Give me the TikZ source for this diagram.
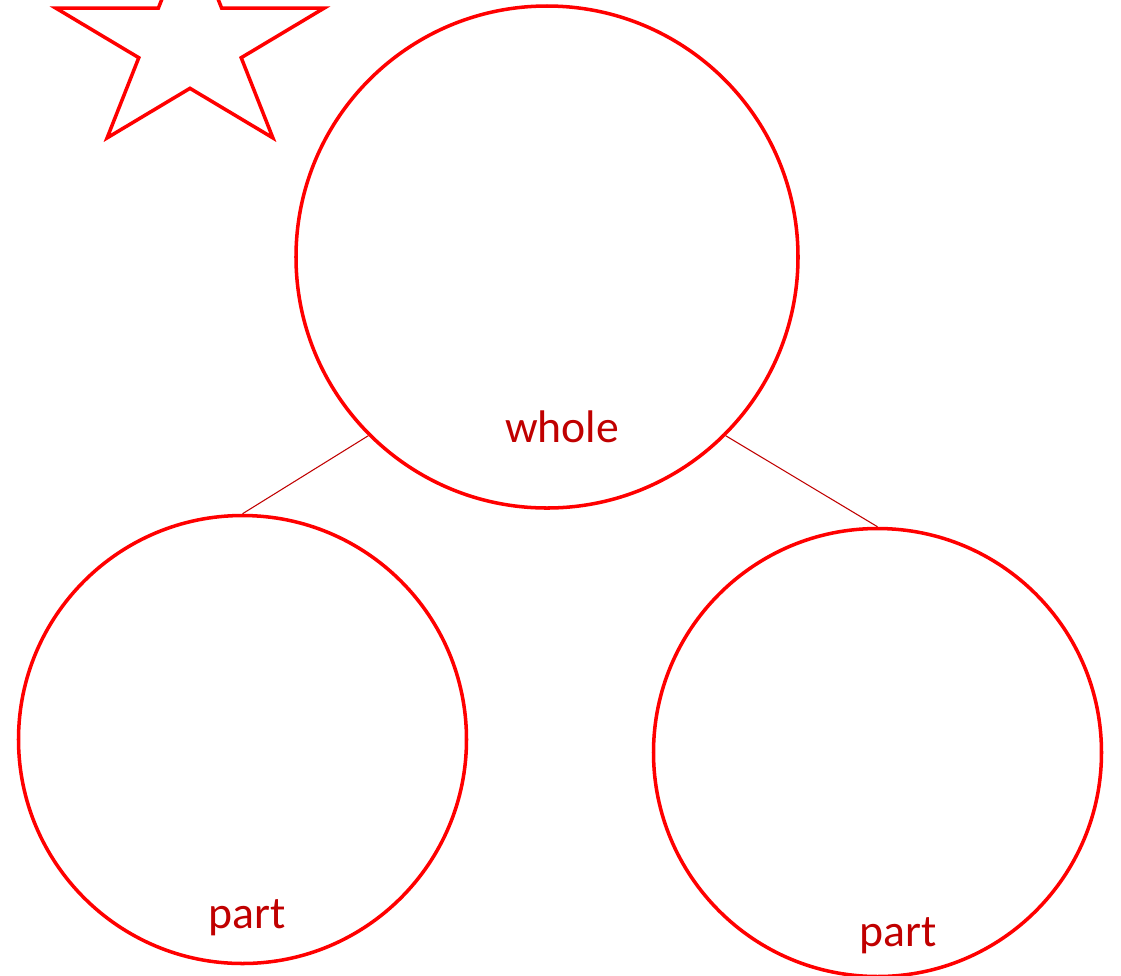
\documentclass[tikz,border=0pt]{standalone}
\usepackage{fontspec}
\setmainfont{Carlito}
\usetikzlibrary{positioning}
\definecolor{ring}{HTML}{FF0000}
\definecolor{wordred}{HTML}{C00000}

\begin{document}
\begin{tikzpicture}[
  bubble/.style={draw=ring, circle, line width=2pt, inner sep=0pt},
  word/.style={text=wordred, anchor=base, inner sep=0pt,
               font=\fontsize{26}{30}\selectfont},
  link/.style={draw=wordred, line width=0.6pt}
]
  \useasboundingbox (0,0) rectangle (22.42,-19.5);
  \clip (0,0) rectangle (22.42,-19.5);

  % Star (top cut off)
  \draw[ring, line width=2pt, shift={(3.8,-0.88)}, yscale=0.823]
    (90:2.82) -- (126:1.077) -- (162:2.82) -- (198:1.077) -- (234:2.82)
    -- (270:1.077) -- (306:2.82) -- (342:1.077) -- (18:2.82) -- (54:1.077) -- cycle;

  % Whole and parts
  \node[bubble, minimum size=10.04cm] (whole) at (10.94,-5.14) {};
  \node[bubble, minimum size=8.96cm] (partL) at (4.85,-14.79) {};
  \node[bubble, minimum size=8.96cm] (partR) at (17.55,-15.05) {};

  \draw[link] (whole.-135) -- (partL.north);
  \draw[link] (whole.-45) -- (partR.north);

  % Labels
  \node[word] (wholeLbl) at (11.24,-8.84) {whole};
  \node[word] (partLLbl) at (4.94,-18.56) {part};
  \node[word] (partRLbl) at (17.96,-18.92) {part};
\end{tikzpicture}
\end{document}
